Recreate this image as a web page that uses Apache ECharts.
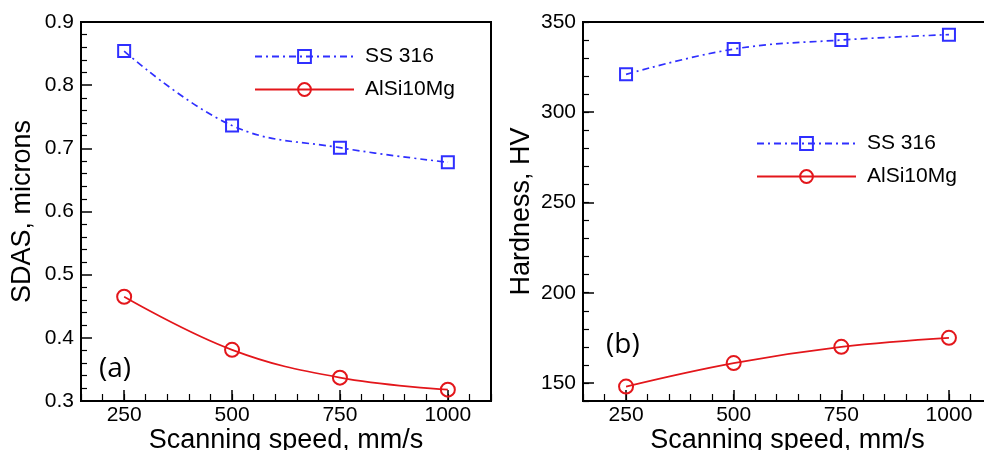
<!DOCTYPE html>
<html>
<head>
<meta charset="utf-8">
<script src="https://cdn.jsdelivr.net/npm/echarts@6/dist/echarts.min.js"></script>
<style>html,body{margin:0;padding:0;background:#fff;}#c{width:984px;height:450px;}</style>
</head>
<body>
<div id="c"></div>
<script>
// ---- data ----
const speeds = [250, 500, 750, 1000];
const sdasSS316 = [0.854, 0.736, 0.701, 0.678];
const sdasAlSi = [0.465, 0.381, 0.337, 0.318];
const hardSS316 = [321, 335, 340, 343];
const hardAlSi = [148, 161, 170, 175];
const xTickLabels = [250, 500, 750, 1000];
const yTicksHard = [150, 200, 250, 300, 350];
const seriesNames = ['SS 316', 'AlSi10Mg'];

const FONT = '"Liberation Sans", Arial, sans-serif';
const BLUE = '#2f2fff';
const RED = '#e3161b';
const pairs = (xs, ys) => xs.map((x, i) => [x, ys[i]]);

const chart = echarts.init(document.getElementById('c'), null, {renderer: 'canvas'});

const axisLineStyle = {show: true, lineStyle: {color: '#000', width: 2}};

function baseX(gridIndex) {
  return {
    type: 'value', gridIndex, min: 150, max: 1100, interval: 50,
    axisLine: axisLineStyle,
    axisTick: {show: true, inside: true, length: 7, lineStyle: {color: '#000', width: 1.2}},
    axisLabel: {show: false}, splitLine: {show: false},
    name: 'Scanning speed, mm/s', nameLocation: 'middle', nameGap: 26,
    nameTextStyle: {fontSize: 27, color: '#000', fontFamily: FONT}
  };
}
function majorX(gridIndex) {
  return {
    type: 'value', gridIndex, min: 150, max: 1100, position: 'bottom',
    axisLine: {show: false},
    axisTick: {show: true, inside: true, length: 11, customValues: xTickLabels, lineStyle: {color: '#000', width: 1.5}},
    axisLabel: {show: true, customValues: xTickLabels, fontSize: 21, color: '#000', fontFamily: FONT, margin: 4,
      formatter: v => String(v)},
    splitLine: {show: false}
  };
}

const option = {
  animation: false,
  backgroundColor: '#fff',
  grid: [
    {left: 81, top: 22, width: 410, height: 379, show: true, borderColor: '#000', borderWidth: 2, backgroundColor: 'transparent', outerBoundsMode: 'none', containLabel: false},
    {left: 583, top: 22, width: 409, height: 379, show: true, borderColor: '#000', borderWidth: 2, backgroundColor: 'transparent', outerBoundsMode: 'none', containLabel: false}
  ],
  xAxis: [baseX(0), majorX(0), baseX(1), majorX(1)],
  yAxis: [
    {
      type: 'value', gridIndex: 0, min: 0.3, max: 0.9, interval: 0.1,
      axisLine: axisLineStyle,
      axisTick: {show: true, inside: true, length: 11, lineStyle: {color: '#000', width: 1.5}},
      minorTick: {show: true, splitNumber: 5, length: 6, lineStyle: {color: '#000', width: 1.2}},
      axisLabel: {fontSize: 21, color: '#000', fontFamily: FONT, margin: 7},
      splitLine: {show: false}, minorSplitLine: {show: false},
      name: 'SDAS, microns', nameLocation: 'middle', nameGap: 45,
      nameTextStyle: {fontSize: 27, color: '#000', fontFamily: FONT}
    },
    {
      type: 'value', gridIndex: 1, min: 140, max: 350, interval: 10,
      axisLine: axisLineStyle,
      axisTick: {show: true, inside: true, length: 6, lineStyle: {color: '#000', width: 1.2}},
      axisLabel: {show: false}, splitLine: {show: false}
    },
    {
      type: 'value', gridIndex: 1, min: 140, max: 350, position: 'left',
      axisLine: {show: false},
      axisTick: {show: true, inside: true, length: 11, customValues: yTicksHard, lineStyle: {color: '#000', width: 1.5}},
      axisLabel: {show: true, customValues: yTicksHard, fontSize: 21, color: '#000', fontFamily: FONT, margin: 7},
      splitLine: {show: false},
      name: 'Hardness, HV', nameLocation: 'middle', nameGap: 48,
      nameTextStyle: {fontSize: 27, color: '#000', fontFamily: FONT}
    }
  ],
  legend: [
    {
      orient: 'vertical', left: 249, top: 41, itemWidth: 99, itemHeight: 16, itemGap: 12,
      data: seriesNames,
      textStyle: {fontSize: 21, color: '#000', fontFamily: FONT, padding: [0, 0, 0, 6]},
      selectedMode: false
    },
    {
      orient: 'vertical', left: 751, top: 128, itemWidth: 99, itemHeight: 16, itemGap: 12,
      data: seriesNames,
      textStyle: {fontSize: 21, color: '#000', fontFamily: FONT, padding: [0, 0, 0, 6]},
      selectedMode: false
    }
  ],
  graphic: [
    {type: 'text', left: 99, top: 355, style: {text: '(a)', fontSize: 28, fill: '#000', fontFamily: '"Open Sans", Lato, sans-serif'}},
    {type: 'text', left: 606, top: 331, style: {text: '(b)', fontSize: 28, fill: '#000', fontFamily: '"Open Sans", Lato, sans-serif'}}
  ],
  series: [
    {
      name: seriesNames[0], type: 'line', xAxisIndex: 0, yAxisIndex: 0, smooth: 0.4,
      data: pairs(speeds, sdasSS316),
      symbol: 'rect', symbolSize: 12,
      lineStyle: {color: BLUE, width: 1.7, type: [7, 4, 2, 4]},
      itemStyle: {color: 'rgba(0,0,0,0)', borderColor: BLUE, borderWidth: 2}
    },
    {
      name: seriesNames[1], type: 'line', xAxisIndex: 0, yAxisIndex: 0, smooth: 0.4,
      data: pairs(speeds, sdasAlSi),
      symbol: 'circle', symbolSize: 14,
      lineStyle: {color: RED, width: 1.7},
      itemStyle: {color: 'rgba(0,0,0,0)', borderColor: RED, borderWidth: 2}
    },
    {
      name: seriesNames[0], type: 'line', xAxisIndex: 2, yAxisIndex: 1, smooth: 0.4,
      data: pairs(speeds, hardSS316),
      symbol: 'rect', symbolSize: 12,
      lineStyle: {color: BLUE, width: 1.7, type: [7, 4, 2, 4]},
      itemStyle: {color: 'rgba(0,0,0,0)', borderColor: BLUE, borderWidth: 2}
    },
    {
      name: seriesNames[1], type: 'line', xAxisIndex: 2, yAxisIndex: 1, smooth: 0.4,
      data: pairs(speeds, hardAlSi),
      symbol: 'circle', symbolSize: 14,
      lineStyle: {color: RED, width: 1.7},
      itemStyle: {color: 'rgba(0,0,0,0)', borderColor: RED, borderWidth: 2}
    }
  ]
};
chart.setOption(option);
</script>
</body>
</html>
